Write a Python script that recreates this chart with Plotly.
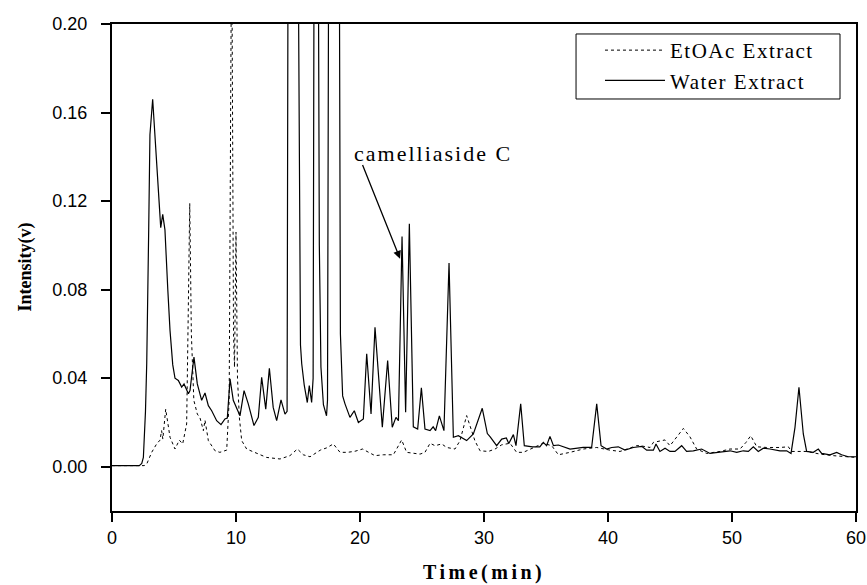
import plotly.graph_objects as go

# Water extract chromatogram (time in min, intensity in V); clipped peaks go above 0.2
water_time = [
    0.0, 2.2, 2.4, 2.53, 2.7, 2.8, 2.96, 3.06, 3.28, 3.6, 3.93, 4.09, 4.27, 4.5, 4.68,
    4.9, 5.08, 5.35, 5.62, 5.81, 6.16, 6.29, 6.45, 6.61, 6.88, 7.23, 7.5, 7.77, 8.04,
    8.44, 8.79, 9.11, 9.3, 9.52, 9.78, 10.05, 10.32, 10.65, 10.99, 11.45, 11.8, 12.07,
    12.4, 12.69, 13.0, 13.28, 13.63, 13.95, 14.12, 14.22, 14.95, 15.2, 15.3, 15.5,
    15.75, 15.91, 16.1, 16.22, 16.32, 16.6, 16.72, 16.85, 17.05, 17.3, 17.38, 17.5,
    18.3, 18.42, 18.6, 18.79, 19.19, 19.54, 19.87, 20.27, 20.54, 20.89, 21.21, 21.8,
    22.23, 22.6, 22.9, 23.1, 23.39, 23.68, 23.98, 24.3, 24.65, 24.95, 25.24, 25.65,
    25.9, 26.1, 26.4, 26.77, 27.18, 27.53, 27.93, 28.6, 29.14, 29.86, 30.27, 30.5,
    31.02, 31.43, 31.8, 32.0, 32.37, 32.58, 32.96, 33.25, 33.9, 34.5, 34.78, 35.05,
    35.32, 35.6, 36.0, 36.94, 38.0, 38.68, 39.09, 39.44, 39.89, 40.3, 40.83, 41.37,
    42.04, 42.72, 43.12, 43.66, 43.87, 44.19, 44.6, 45.0, 45.4, 45.94, 46.34, 46.88,
    47.55, 48.23, 49.03, 49.84, 50.38, 50.91, 51.32, 51.72, 52.12, 52.53, 53.06,
    53.87, 54.41, 54.76, 55.08, 55.4, 55.75, 56.02, 56.56, 56.96, 57.23, 57.9, 58.44,
    58.84, 59.38, 60.0,
]
water_intensity = [
    0.0005, 0.0005, 0.0015, 0.0042, 0.025, 0.0465, 0.107, 0.150, 0.166, 0.138, 0.108,
    0.114, 0.107, 0.080, 0.0615, 0.046, 0.040, 0.039, 0.036, 0.0374, 0.033, 0.0344,
    0.043, 0.0495, 0.0374, 0.030, 0.0333, 0.0276, 0.0253, 0.0208, 0.019, 0.0216, 0.022,
    0.0397, 0.030, 0.0268, 0.023, 0.0344, 0.0284, 0.0186, 0.0223, 0.0404, 0.026, 0.0445,
    0.0268, 0.0208, 0.0302, 0.0238, 0.025, 0.30, 0.30, 0.055, 0.0465, 0.037, 0.029,
    0.0367, 0.029, 0.04, 0.30, 0.30, 0.10, 0.045, 0.028, 0.023, 0.03, 0.30, 0.30, 0.06,
    0.032, 0.0284, 0.0223, 0.0253, 0.020, 0.0216, 0.051, 0.0238, 0.063, 0.0178, 0.048,
    0.0178, 0.0223, 0.0208, 0.104, 0.0246, 0.1098, 0.018, 0.017, 0.0356, 0.017, 0.0163,
    0.018, 0.0163, 0.023, 0.0163, 0.092, 0.0133, 0.014, 0.0118, 0.0148, 0.0264, 0.015,
    0.0135, 0.0095, 0.0125, 0.013, 0.0105, 0.0145, 0.0095, 0.0284, 0.0095, 0.009, 0.009,
    0.011, 0.0095, 0.0137, 0.0095, 0.0098, 0.008, 0.0087, 0.0087, 0.0284, 0.0095, 0.0080,
    0.0087, 0.0090, 0.0075, 0.0087, 0.0092, 0.0075, 0.0075, 0.0103, 0.0069, 0.0084,
    0.0069, 0.0069, 0.0095, 0.0069, 0.0072, 0.0080, 0.0060, 0.0065, 0.0072, 0.0065,
    0.0072, 0.0069, 0.0090, 0.0069, 0.0084, 0.0080, 0.0072, 0.0072, 0.0060, 0.0178,
    0.0359, 0.0148, 0.0069, 0.0065, 0.0080, 0.0060, 0.0054, 0.0065, 0.0054, 0.0045,
    0.0045,
]

# EtOAc extract chromatogram
etoac_time = [
    0.0, 2.6, 2.8, 3.2, 3.6, 3.87, 4.0, 4.1, 4.33, 4.68, 5.08, 5.43, 5.7, 6.02, 6.15,
    6.27, 6.4, 6.6, 6.88, 7.1, 7.37, 7.5, 7.77, 8.31, 8.7, 9.25, 9.45, 9.65, 9.8, 9.88,
    10.0, 10.12, 10.27, 10.46, 10.86, 11.67, 12.47, 13.55, 14.35, 14.95, 15.43, 15.97,
    16.8, 17.3, 17.85, 18.39, 19.0, 19.6, 20.21, 20.7, 21.21, 21.88, 22.69, 23.36,
    23.76, 24.84, 25.24, 25.65, 26.05, 26.59, 26.99, 27.66, 28.06, 28.6, 29.0, 29.27,
    29.68, 30.35, 30.89, 31.43, 32.1, 32.63, 33.17, 33.98, 34.78, 35.46, 36.0, 36.94,
    38.01, 39.09, 39.6, 40.16, 40.97, 41.24, 42.31, 42.58, 43.39, 43.66, 44.46, 44.6,
    45.0, 45.54, 46.08, 46.61, 47.15, 47.96, 49.03, 49.84, 50.65, 51.13, 51.51, 52.0,
    52.8, 53.87, 54.54, 54.82, 56.02, 57.1, 58.17, 60.0,
]
etoac_intensity = [
    0.0005, 0.0005, 0.0012, 0.0065, 0.0103, 0.012, 0.0163, 0.0125, 0.026, 0.0133, 0.008,
    0.012, 0.0103, 0.0193, 0.07, 0.119, 0.06, 0.03, 0.0238, 0.022, 0.0163, 0.021, 0.0118,
    0.0072, 0.0065, 0.0075, 0.03, 0.25, 0.06, 0.045, 0.106, 0.04, 0.0223, 0.0118, 0.008,
    0.006, 0.0042, 0.0035, 0.005, 0.008, 0.0054, 0.0045, 0.0075, 0.0085, 0.0103, 0.0065,
    0.0065, 0.007, 0.008, 0.0065, 0.005, 0.0054, 0.0054, 0.0121, 0.0065, 0.0057, 0.0065,
    0.0106, 0.0095, 0.0103, 0.0087, 0.008, 0.0117, 0.0231, 0.0163, 0.0117, 0.0072,
    0.0069, 0.008, 0.0099, 0.0106, 0.0065, 0.0065, 0.0087, 0.0106, 0.0095, 0.0054,
    0.0065, 0.008, 0.0087, 0.008, 0.0075, 0.0069, 0.0075, 0.0095, 0.0095, 0.0087, 0.011,
    0.0121, 0.0121, 0.0095, 0.0135, 0.0173, 0.0135, 0.008, 0.006, 0.0069, 0.008, 0.008,
    0.011, 0.014, 0.009, 0.0087, 0.0087, 0.009, 0.0069, 0.0069, 0.0057, 0.005, 0.0042,
]

x_ticks = [0, 10, 20, 30, 40, 50, 60]
y_ticks = [0.00, 0.04, 0.08, 0.12, 0.16, 0.20]

SERIF = "Liberation Serif, Times New Roman, serif"
SANS = "Liberation Sans, Arial, sans-serif"


def spaced(text, px):
    # the original export draws serif text with loose letter spacing
    return f"<span style='letter-spacing:{px}px'>{text}</span>"


fig = go.Figure()
fig.add_trace(go.Scatter(
    x=etoac_time, y=etoac_intensity, mode="lines", name=spaced("EtOAc Extract", 1.5),
    line=dict(color="black", width=1, dash="dot"),
))
fig.add_trace(go.Scatter(
    x=water_time, y=water_intensity, mode="lines", name=spaced("Water Extract", 1.5),
    line=dict(color="black", width=1.2),
))

axis_style = dict(
    showline=True, linecolor="black", linewidth=2, mirror=True,
    ticks="outside", ticklen=9, tickwidth=2, tickcolor="black",
    showgrid=False, zeroline=False, automargin=False,
    tickfont=dict(family=SANS, size=18, color="black"),
)
fig.update_xaxes(range=[0, 60], tickvals=x_ticks, ticktext=[str(v) for v in x_ticks], **axis_style)
fig.update_yaxes(range=[-0.02, 0.20], tickvals=y_ticks,
                 ticktext=[f"{v:.2f}" for v in y_ticks], ticklabelstandoff=10, **axis_style)

# axis titles
fig.add_annotation(text="<b>" + spaced("Time(min)", 3.5) + "</b>", xref="paper", yref="paper",
                   x=0.5, y=-0.1273, xanchor="center", yanchor="middle",
                   showarrow=False, font=dict(family=SERIF, size=20, color="black"))
fig.add_annotation(text="<b>Intensity(v)</b>", xref="paper", yref="paper", x=-0.1169, y=0.5,
                   xanchor="center", yanchor="middle", textangle=-90, showarrow=False,
                   font=dict(family=SERIF, size=18, color="black"))

# label for the compound peak
fig.add_annotation(text=spaced("camelliaside C", 2), x=19.35, y=0.1416, xanchor="left",
                   yanchor="middle", showarrow=False,
                   font=dict(family=SERIF, size=22, color="black"))
fig.add_annotation(text="", x=23.23, y=0.094, ax=20.16, ay=0.137, axref="x", ayref="y",
                   showarrow=True, arrowhead=2, arrowsize=1.2, arrowwidth=1.3,
                   arrowcolor="black")

# legend frame drawn separately so it can be as wide as the original one
fig.add_shape(type="rect", xref="paper", yref="paper",
              x0=0.6237, x1=0.9785, y0=0.846, y1=0.9795,
              line=dict(color="black", width=1), fillcolor="white", layer="above")

fig.update_layout(
    width=867, height=585,
    margin=dict(l=112, r=11, t=24, b=74),
    paper_bgcolor="white", plot_bgcolor="white",
    showlegend=True,
    legend=dict(x=0.6559, y=0.9877, xanchor="left", yanchor="top",
                borderwidth=0, bgcolor="rgba(0,0,0,0)",
                font=dict(family=SERIF, size=21, color="black"),
                tracegroupgap=0, itemwidth=60),
)

# drop the default page margin so the figure fills the window exactly
fig.write_html("out.html", config={"displayModeBar": False},
               post_script="document.body.style.margin = '0';")
